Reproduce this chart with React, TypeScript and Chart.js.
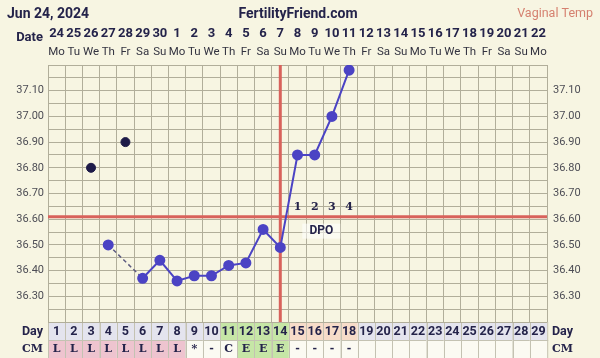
import React, { useEffect, useRef } from "react";
import { Chart, registerables } from "chart.js";

Chart.register(...registerables);

// ---------- data ----------
const chartDate = "Jun 24, 2024";
const siteName = "FertilityFriend.com";
const tempType = "Vaginal Temp";

const dateLabels = ["24","25","26","27","28","29","30","1","2","3","4","5","6","7","8","9","10","11","12","13","14","15","16","17","18","19","20","21","22"];
const weekdayLabels = ["Mo","Tu","We","Th","Fr","Sa","Su","Mo","Tu","We","Th","Fr","Sa","Su","Mo","Tu","We","Th","Fr","Sa","Su","Mo","Tu","We","Th","Fr","Sa","Su","Mo"];
const cycleDays = ["1","2","3","4","5","6","7","8","9","10","11","12","13","14","15","16","17","18","19","20","21","22","23","24","25","26","27","28","29"];

const temps = [null,null,null,36.50,null,36.37,36.44,36.36,36.38,36.38,36.42,36.43,36.56,36.49,36.85,36.85,37.00,37.18,null,null,null,null,null,null,null,null,null,null,null];
const discardedTemps = [null,null,36.80,null,36.90,null,null,null,null,null,null,null,null,null,null,null,null,null,null,null,null,null,null,null,null,null,null,null,null];
const cmLabels = ["L","L","L","L","L","L","L","L","*","-","C","E","E","E","-","-","-","-","","","","","","","","","","",""];

const coverline = 36.61;
const ovulationDay = 14;
const fertileDays = [11, 12, 13, 14];
const dpoDays = [15, 16, 17, 18];
const dpoLabels = ["1", "2", "3", "4"];

const yGridValues = [36.20,36.25,36.30,36.35,36.40,36.45,36.50,36.55,36.60,36.65,36.70,36.75,36.80,36.85,36.90,36.95,37.00,37.05,37.10,37.15,37.20];
const yLabelValues = [36.30,36.40,36.50,36.60,36.70,36.80,36.90,37.00,37.10];

// ---------- styles ----------
const BG = "#f7f5e2";
const GRID = "#b1ae9a";
const LINE = "#4b43c4";
const DARK = "#1d1a48";
const RED = "#d8625b";
const TEXT = "#24234a";
const SANS = "Roboto, 'Noto Sans', sans-serif";
const SERIF = "'DejaVu Serif', 'Liberation Serif', serif";

const tickLabel = (v: number) =>
  yLabelValues.some((l) => Math.abs(l - v) < 1e-6) ? v.toFixed(2) : "";

const isGap = (c: any) => !!(c.p0 && c.p0.skip) || !!(c.p1 && c.p1.skip);

const ffPlugin = {
  id: "ffPlugin",
  beforeDraw(chart: any) {
    const { ctx, chartArea, scales } = chart;
    const x = scales.x;
    ctx.save();
    ctx.fillStyle = BG;
    ctx.fillRect(0, 0, chart.width, chart.height);

    // header
    ctx.textBaseline = "middle";
    ctx.fillStyle = TEXT;
    ctx.font = `bold 14px ${SANS}`;
    ctx.textAlign = "left";
    ctx.fillText(chartDate, 7, 14);
    ctx.textAlign = "center";
    ctx.fillText(siteName, 298, 14);
    ctx.font = `12.5px ${SANS}`;
    ctx.fillStyle = "#d5806f";
    ctx.textAlign = "right";
    ctx.fillText(tempType, 593, 14);

    // date rows
    ctx.fillStyle = TEXT;
    ctx.font = `bold 13px ${SANS}`;
    ctx.textAlign = "right";
    ctx.fillText("Date", 43, 38);
    const w = x.getPixelForValue(1) - x.getPixelForValue(0);
    dateLabels.forEach((d, i) => {
      const cx = x.getPixelForValue(i);
      ctx.textAlign = "center";
      ctx.fillStyle = TEXT;
      ctx.font = `bold 13px ${SANS}`;
      ctx.fillText(d, cx, 34);
      ctx.fillStyle = "#333340";
      ctx.font = `11.5px ${SANS}`;
      ctx.fillText(weekdayLabels[i], cx, 52);
    });

    // bottom rows
    const dayTop = chartArea.bottom;
    const dayBot = dayTop + 18;
    const cmBot = chart.height;
    cycleDays.forEach((d, i) => {
      const day = i + 1;
      const cx = x.getPixelForValue(i);
      const left = cx - w / 2;
      let dayFill = "#e4e4ee";
      if (fertileDays.includes(day)) dayFill = "#c6e6a6";
      else if (dpoDays.includes(day)) dayFill = "#f7dcc9";
      ctx.fillStyle = dayFill;
      ctx.fillRect(left, dayTop, w, dayBot - dayTop);
      const cm = cmLabels[i];
      let cmFill = "#fbfaf2";
      if (cm === "L") cmFill = "#eec4cf";
      else if (cm === "E") cmFill = "#c6e6a6";
      ctx.fillStyle = cmFill;
      ctx.fillRect(left, dayBot, w, cmBot - dayBot);
      ctx.strokeStyle = "#c4c2b2";
      ctx.lineWidth = 1;
      ctx.strokeRect(Math.round(left) + 0.5, dayTop + 0.5, w, dayBot - dayTop);
      ctx.strokeRect(Math.round(left) + 0.5, dayBot + 0.5, w, cmBot - dayBot);
      ctx.fillStyle = TEXT;
      ctx.textAlign = "center";
      ctx.font = `bold 12.5px ${SANS}`;
      ctx.fillText(d, cx, dayTop + 9.5);
      ctx.font = `bold 11px ${SERIF}`;
      ctx.fillText(cm, cx, dayBot + 9.5);
    });
    ctx.fillStyle = TEXT;
    ctx.font = `bold 12.5px ${SANS}`;
    ctx.textAlign = "right";
    ctx.fillText("Day", 43, dayTop + 9.5);
    ctx.textAlign = "left";
    ctx.fillText("Day", 552, dayTop + 9.5);
    ctx.font = `bold 11px ${SERIF}`;
    ctx.textAlign = "right";
    ctx.fillText("CM", 43, dayBot + 9.5);
    ctx.textAlign = "left";
    ctx.fillText("CM", 552, dayBot + 9.5);
    ctx.restore();
  },
  beforeDatasetsDraw(chart: any) {
    const { ctx, chartArea, scales } = chart;
    const x = scales.x;
    const y = scales.y;
    ctx.save();
    ctx.strokeStyle = RED;
    ctx.lineWidth = 3;
    const cy = y.getPixelForValue(coverline);
    ctx.beginPath();
    ctx.moveTo(chartArea.left, cy);
    ctx.lineTo(chartArea.right, cy);
    ctx.stroke();
    const ox = x.getPixelForValue(ovulationDay - 1);
    ctx.beginPath();
    ctx.moveTo(ox, chartArea.top);
    ctx.lineTo(ox, chartArea.bottom);
    ctx.stroke();
    ctx.restore();
  },
  afterDatasetsDraw(chart: any) {
    const { ctx, scales } = chart;
    const x = scales.x;
    const y = scales.y;
    ctx.save();
    const cy = y.getPixelForValue(coverline);
    ctx.textAlign = "center";
    ctx.textBaseline = "middle";
    ctx.fillStyle = TEXT;
    ctx.font = `bold 11px ${SERIF}`;
    dpoDays.forEach((d, i) => {
      ctx.fillText(dpoLabels[i], x.getPixelForValue(d - 1), cy - 9);
    });
    const x0 = x.getPixelForValue(dpoDays[0] - 1);
    const x1 = x.getPixelForValue(dpoDays[dpoDays.length - 1] - 1);
    const mx = (x0 + x1) / 2 - 2;
    ctx.fillStyle = "rgba(255,255,255,0.55)";
    ctx.fillRect(mx - 19, cy + 7, 38, 15);
    ctx.fillStyle = TEXT;
    ctx.font = `bold 12px ${SANS}`;
    ctx.fillText("DPO", mx, cy + 14.5);
    ctx.restore();
  },
};

const yAxisBase = (pos: "left" | "right", width: number, pad: number, showGrid: boolean) => ({
  position: pos,
  min: 36.2,
  max: 37.2,
  afterBuildTicks: (s: any) => {
    s.ticks = yGridValues.map((v) => ({ value: v }));
  },
  ticks: {
    callback: (v: any) => tickLabel(Number(v)),
    font: { family: SANS, size: 11 },
    color: "#4d4d55",
    padding: pad,
    autoSkip: false,
  },
  grid: { display: showGrid, color: GRID, drawTicks: false, lineWidth: 1 },
  border: { display: false },
  afterFit: (s: any) => {
    s.width = width;
  },
});

export default function App() {
  const ref = useRef<HTMLCanvasElement>(null);
  useEffect(() => {
    const canvas = ref.current!;
    const chart = new Chart(canvas, {
      type: "line",
      data: {
        labels: cycleDays,
        datasets: [
          {
            data: temps as any,
            borderColor: LINE,
            backgroundColor: LINE,
            pointBackgroundColor: LINE,
            pointBorderColor: LINE,
            pointRadius: 4.5,
            borderWidth: 2,
            spanGaps: true,
            yAxisID: "y",
            segment: {
              borderDash: (c: any) => (isGap(c) ? [4, 3] : undefined),
              borderColor: (c: any) => (isGap(c) ? "#5d5b80" : undefined),
              borderWidth: (c: any) => (isGap(c) ? 1.5 : undefined),
            },
          },
          {
            data: discardedTemps as any,
            showLine: false,
            pointRadius: 4.5,
            pointBackgroundColor: DARK,
            pointBorderColor: DARK,
            borderColor: DARK,
            yAxisID: "y",
          },
        ],
      },
      options: {
        responsive: false,
        animation: false,
        devicePixelRatio: 1,
        layout: { padding: { top: 65, left: 0, right: 0, bottom: 0 } },
        plugins: {
          legend: { display: false },
          tooltip: { enabled: false },
          title: { display: false },
        },
        scales: {
          x: {
            type: "category",
            position: "bottom",
            offset: true,
            grid: { offset: true, color: GRID, drawTicks: false, lineWidth: 1 },
            border: { display: false },
            ticks: { display: false },
            afterFit: (s: any) => {
              s.height = 36;
            },
          },
          y: yAxisBase("left", 48, 4, true) as any,
          y2: yAxisBase("right", 53, 6, false) as any,
        },
      },
      plugins: [ffPlugin],
    });
    return () => chart.destroy();
  }, []);
  return (
    <div style={{ position: "fixed", left: 0, top: 0, width: 600, height: 358, background: BG }}>
      <canvas ref={ref} width={600} height={358} style={{ display: "block", width: 600, height: 358 }} />
    </div>
  );
}
